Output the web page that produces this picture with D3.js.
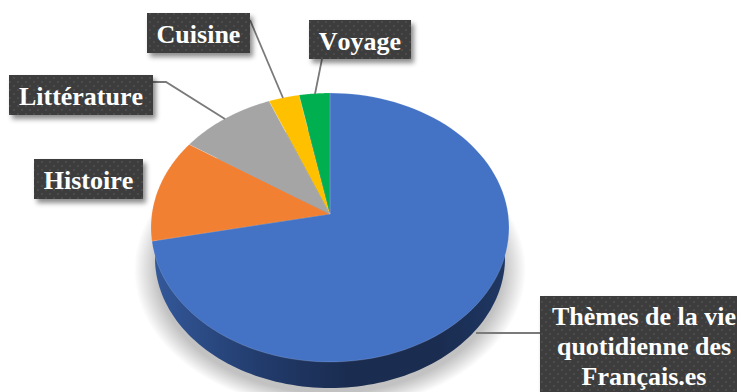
<!DOCTYPE html>
<html><head><meta charset="utf-8">
<style>html,body{margin:0;padding:0;background:#fff}svg{display:block}</style>
<script src="https://cdn.jsdelivr.net/npm/d3@7"></script></head><body>
<script>
const categories = ["Thèmes de la vie quotidienne des Français.es","Histoire","Littérature","Cuisine","Voyage"];
const values = [71.8,12.5,9.6,3.05,3.05];
const colors = ["#4472C4","#F18033","#A5A5A5","#FFC000","#00B050"];
const labelLines = [["Thèmes de la vie","quotidienne des","Français.es"],["Histoire"],["Littérature"],["Cuisine"],["Voyage"]];
const labelBoxes = [[540,296,205,96],[34,159,109,40],[9,75,144,40],[147,13,103,40],[309,20,102,39]];
const leaderPaths = [[[540,333],[476,333]],null,[[153,82],[166,82],[225,119]],[[250,20],[283,98]],[[322,59],[315,94]]];

const W=737,H=392;
const svg=d3.select("body").append("svg").attr("width",W).attr("height",H);
const defs=svg.append("defs");
const pat=defs.append("pattern").attr("id","dots").attr("width",8).attr("height",8).attr("patternUnits","userSpaceOnUse");
pat.append("rect").attr("width",8).attr("height",8).attr("fill","#3d3d3d");
pat.append("circle").attr("cx",2).attr("cy",2).attr("r",1).attr("fill","#4f4f4f");
pat.append("circle").attr("cx",6).attr("cy",6).attr("r",1).attr("fill","#4f4f4f");
const fs=defs.append("filter").attr("id","boxShadow").attr("x","-20%").attr("y","-20%").attr("width","150%").attr("height","160%");
fs.append("feDropShadow").attr("dx",3).attr("dy",4).attr("stdDeviation",2.5).attr("flood-color","#000").attr("flood-opacity",.45);
const rg=defs.append("radialGradient").attr("id","softShadow");
[[0,"#c2c2c2"],[.88,"#c2c2c2"],[.94,"#e0e0e0"],[1,"#ffffff"]].forEach(s=>rg.append("stop").attr("offset",s[0]).attr("stop-color",s[1]));
const grad=defs.append("linearGradient").attr("id","side").attr("gradientUnits","userSpaceOnUse").attr("x1",150).attr("x2",510).attr("y1",0).attr("y2",0);
[[0,"#34599b"],[.3,"#223c6d"],[.55,"#1a2c50"],[.8,"#1a2c50"],[1,"#1f3864"]].forEach(s=>grad.append("stop").attr("offset",s[0]).attr("stop-color",s[1]));

// projective mapping of the disc onto the screen
const cx=330,apexY=214,persp=0.1004,kx=178.1,ky=133.1;
const sx=d3.scaleLinear().domain([0,1]).range([0,kx]);
const sy=d3.scaleLinear().domain([0,1]).range([0,ky]);
const proj=(a,r=1)=>{const u=r*Math.sin(a),v=-r*Math.cos(a),w=1-persp*v;return [cx+sx(u)/w,apexY+sy(v)/w];};
const line=d3.line();
const arcs=d3.pie().sort(null)(values);
const arcPts=(a0,a1)=>d3.range(0,101).map(i=>proj(a0+(a1-a0)*i/100));

const baseRx=175,baseRy=130,baseCy=258;
const full=d3.range(0,201).map(i=>i/200*2*Math.PI);
const base=full.map(a=>[cx+baseRx*Math.sin(a),baseCy-baseRy*Math.cos(a)]);

svg.append("ellipse").attr("cx",cx).attr("cy",270).attr("rx",196).attr("ry",140).attr("fill","url(#softShadow)");
svg.append("path").attr("d",line(base)+"Z").attr("fill","url(#side)");

svg.append("g").selectAll("path").data(arcs).join("path")
 .attr("d",d=>line([[cx,apexY],...arcPts(d.startAngle,d.endAngle)])+"Z")
 .attr("fill",(d,i)=>colors[i]).attr("stroke","#fff").attr("stroke-opacity",.25).attr("stroke-width",.6);

svg.append("g").selectAll("path").data(leaderPaths.filter(Boolean)).join("path")
 .attr("d",d=>line(d)).attr("fill","none").attr("stroke","#7a7a7a").attr("stroke-width",1.8);

const g=svg.append("g").selectAll("g").data(categories).join("g");
g.append("rect").attr("x",(d,i)=>labelBoxes[i][0]).attr("y",(d,i)=>labelBoxes[i][1])
 .attr("width",(d,i)=>labelBoxes[i][2]).attr("height",(d,i)=>labelBoxes[i][3])
 .attr("fill","url(#dots)").attr("filter","url(#boxShadow)");
g.each(function(d,i){
  const [x,y,w,h]=labelBoxes[i];
  const ls=labelLines[i];
  const mid=i===0?644:x+w/2;
  ls.forEach((t,j)=>{
    d3.select(this).append("text").text(t)
      .attr("x",mid).attr("y",i===0?325+j*30:y+h/2+10)
      .attr("text-anchor","middle")
      .style("font-kerning","none")
      .attr("font-family","'Liberation Serif',serif").attr("font-weight","bold")
      .attr("font-size",26).attr("fill","#fff");
  });
});
</script></body></html>
